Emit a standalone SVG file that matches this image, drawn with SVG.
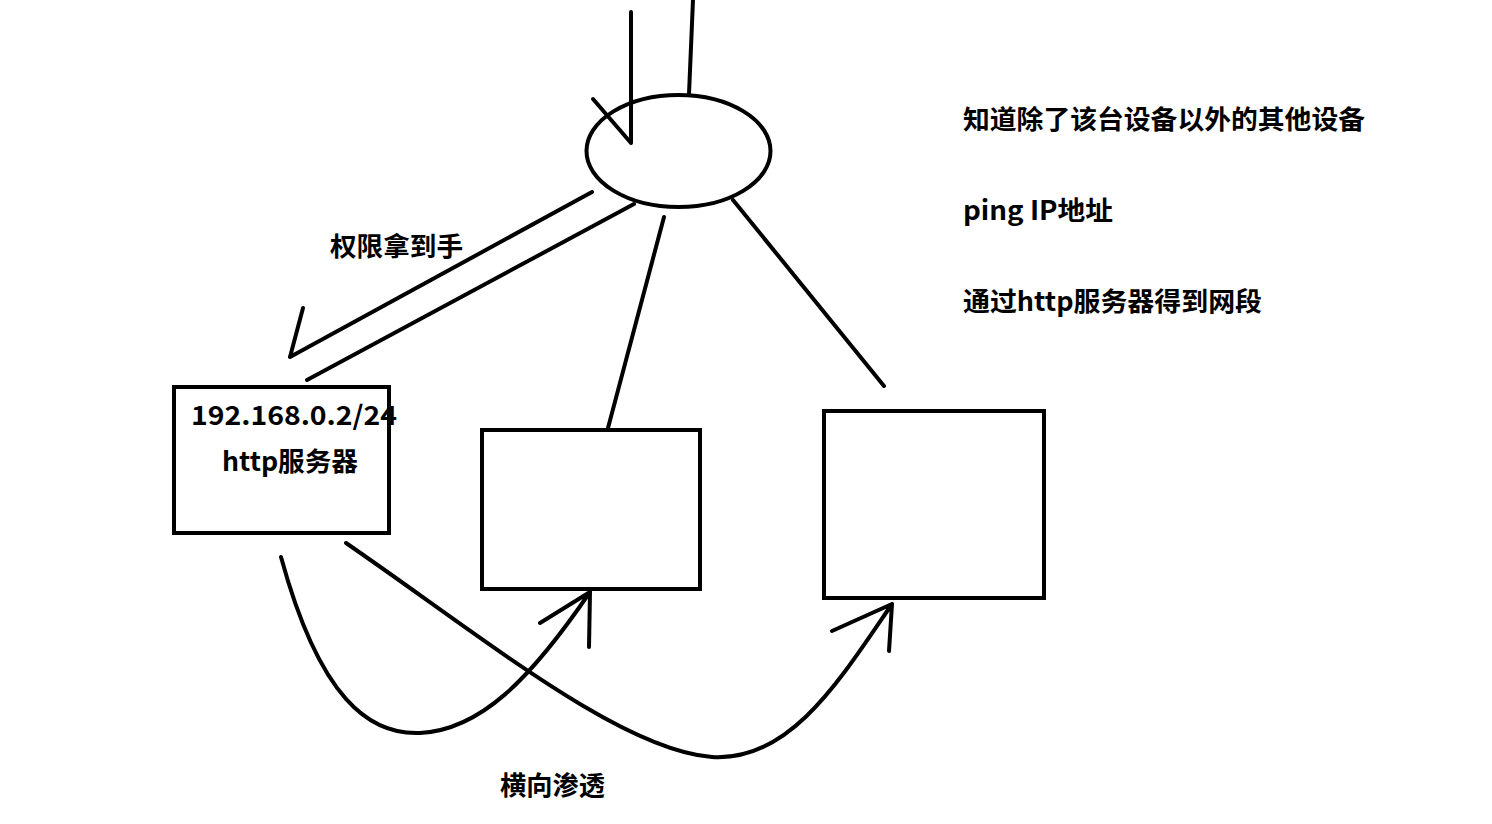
<svg xmlns="http://www.w3.org/2000/svg" width="1492" height="824" viewBox="0 0 1492 824">
<style>
.s{fill:none;stroke:#000;stroke-width:4;stroke-linecap:round;stroke-linejoin:round}
.b{fill:none;stroke:#000;stroke-width:4}
.t{font-family:"Noto Sans CJK SC","Microsoft YaHei",sans-serif;font-weight:bold;font-size:26.5px;fill:#000}
</style>
<rect width="1492" height="824" fill="#fff"/>
<g id="router"><ellipse class="b" cx="678.5" cy="151" rx="92" ry="56"/></g>
<g id="server"><rect class="b" x="174" y="387" width="215" height="146"/>
<text class="t" x="191" y="425" textLength="206" lengthAdjust="spacingAndGlyphs">192.168.0.2/24</text>
<text class="t" x="222" y="471" textLength="136" lengthAdjust="spacingAndGlyphs">http服务器</text></g>
<g id="host2"><rect class="b" x="482" y="430" width="218" height="159"/></g>
<g id="host3"><rect class="b" x="824" y="411" width="220" height="187"/></g>
<g id="connectors">
<path class="s" d="M631,12 L631,143 M593,99 L631,143"/>
<path class="s" d="M693,0 L689,94"/>
<path class="s" d="M592,192 L290,357 M303,308 L290,357"/>
<path class="s" d="M634,204 L307,380"/>
<path class="s" d="M664,217 L608,428"/>
<path class="s" d="M733,200 L884,386"/>
<path class="s" d="M281,557 C320,700 370,735 420,733 C480,730 530,680 590,592 M540,623 L590,592 L589,647"/>
<path class="s" d="M346,543 C480,635 620,750 712,757 C790,762 840,680 892,604 M832,631 L892,604 L889,651"/>
</g>
<g id="labels">
<text class="t" x="330" y="256" textLength="133" lengthAdjust="spacingAndGlyphs">权限拿到手</text>
<text class="t" x="500" y="795" textLength="105" lengthAdjust="spacingAndGlyphs">横向渗透</text>
<text class="t" x="963" y="129" textLength="402" lengthAdjust="spacingAndGlyphs">知道除了该台设备以外的其他设备</text>
<text class="t" x="963" y="220" textLength="150" lengthAdjust="spacingAndGlyphs">ping IP地址</text>
<text class="t" x="963" y="311" textLength="299" lengthAdjust="spacingAndGlyphs">通过http服务器得到网段</text>
</g>
</svg>
